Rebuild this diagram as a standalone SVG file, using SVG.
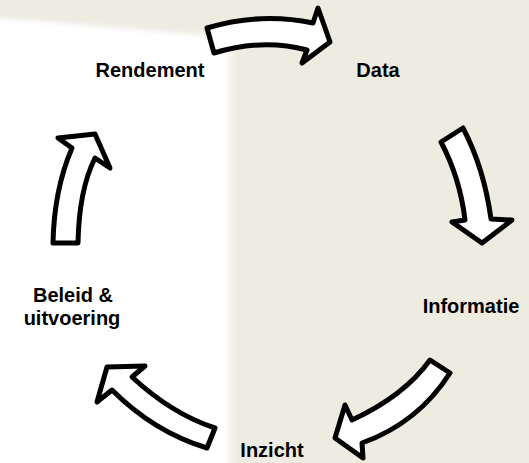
<svg xmlns="http://www.w3.org/2000/svg" width="529" height="463" viewBox="0 0 529 463">
<defs>
<filter id="soft" x="-10%" y="-10%" width="120%" height="120%"><feGaussianBlur stdDeviation="2.5"/></filter>
<linearGradient id="tl" x1="0" y1="0" x2="1" y2="0.3">
<stop offset="0" stop-color="#e6e6e3"/><stop offset="1" stop-color="#f6f5f0"/>
</linearGradient>
</defs>
<style>
.lbl{font-family:"Liberation Sans",Arial,sans-serif;font-weight:bold;font-size:20px;fill:#000;text-anchor:middle}
.arr{fill:#fff;stroke:#000;stroke-width:5;stroke-linejoin:round}
</style>
<rect width="529" height="463" fill="#eeebe1"/>
<g filter="url(#soft)">
<polygon points="-20,12 228,34 228,470 -20,470" fill="url(#tl)" opacity="0.6"/>
<polygon points="-20,16 228,38 228,470 -20,470" fill="#ffffff"/>
<rect x="228" y="34" width="6" height="436" fill="#f4f2ec"/>
</g>
<g id="connectors">
<path class="arr" d="M207,28 Q260,12 313,23 L318,8 L330,42 L302,63 L307,50 Q262,38 214,53 Z"/>
<path class="arr" d="M441,142 L463,128 Q484,168 491,219 L512,220 L482,243 L452,222 L465,220 Q460,178 441,142 Z"/>
<path class="arr" d="M430,360 L450,373 Q418,423 362,443 L363,458 L335,438 L345,405 L352,420 Q404,396 430,360 Z"/>
<path class="arr" d="M215,428 L207,448 Q154,432 112,390 L97,402 L107,367 L145,366 L132,377 Q172,414 215,428 Z"/>
<path class="arr" d="M53,243 L78,243 Q79,190 95,158 L110,168 L95,134 L58,138 L72,148 Q54,190 53,243 Z"/>
</g>
<g id="rendement"><text class="lbl" x="150" y="77">Rendement</text></g>
<g id="data"><text class="lbl" x="378" y="77">Data</text></g>
<g id="informatie"><text class="lbl" x="471" y="313">Informatie</text></g>
<g id="inzicht"><text class="lbl" x="272" y="457">Inzicht</text></g>
<g id="beleid"><text class="lbl" x="73" y="302">Beleid &amp;</text><text class="lbl" x="72" y="325">uitvoering</text></g>
</svg>
